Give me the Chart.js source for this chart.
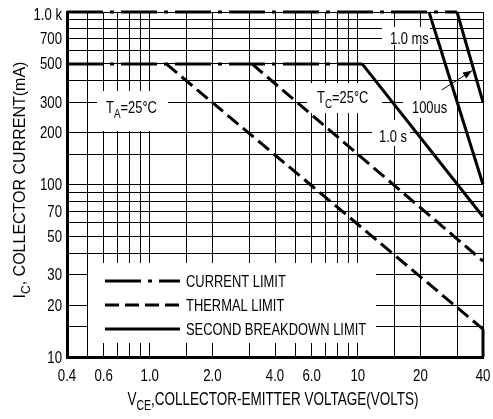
<!DOCTYPE html>
<html><head><meta charset="utf-8">
<script src="https://cdn.jsdelivr.net/npm/chart.js@4/dist/chart.umd.min.js"></script>
<style>html,body{margin:0;padding:0;background:#fff;} canvas{display:block;}</style>
</head><body>
<canvas id="c" width="493" height="419"></canvas>
<script>
const FONT = "'Liberation Sans',Arial,Helvetica,sans-serif";

// grid / tick values
const xGridValues = [0.4,0.5,0.6,0.7,0.8,0.9,1,1.5,2,3,4,5,6,7,8,9,10,15,20,30,40];
const xTickLabels = {0.4:'0.4',0.6:'0.6',1:'1.0',2:'2.0',4:'4.0',6:'6.0',10:'10',20:'20',40:'40'};
const yGridValues = [10,15,20,30,40,50,60,70,80,90,100,150,200,300,400,500,600,700,800,900,1000];
const yTickLabels = {10:'10',20:'20',30:'30',50:'50',70:'70',100:'100',200:'200',300:'300',500:'500',700:'700',1000:'1.0 k'};

// series: [VCE (V), IC (mA)]
const currentLimitPulse = [[0.4,1000],[30,1000]];
const currentLimitDC    = [[0.4,500],[10.5,500]];
const thermalTA         = [[1.2,500],[40,14.5]];
const thermalTC         = [[3.1,500],[40,36]];
const sb1s              = [[10.5,500],[40,65]];
const sb1ms             = [[22,1000],[40,100]];
const sb100us           = [[30,1000],[40,300]];
const voltageLimit      = [[40,14.5],[40,10]];
const arrowFrom = [25.4,354];
const arrowTo   = [35.4,457];

const DASH_CURRENT = [36,7,4,7];
const DASH_THERMAL = [14,6];

function ds(arr, dash){
  return {data: arr.map(([x,y])=>({x,y})), borderColor:'#000', borderWidth:3,
          pointRadius:0, fill:false, tension:0, borderDash: dash||[], clip:6};
}

// condensed text helpers (horizontal scale emulates a narrow face)
function richWidth(ctx, parts, size, sx){
  let w=0;
  for(const [t,sub] of parts){ ctx.font=(sub?Math.round(size*0.75):size)+'px '+FONT; w+=ctx.measureText(t).width*sx; }
  return w;
}
function drawRich(ctx, parts, x, y, size, sx){
  let cx=x;
  for(const [t,sub] of parts){
    ctx.font=(sub?Math.round(size*0.75):size)+'px '+FONT;
    ctx.save(); ctx.translate(cx, sub? y+size*0.3 : y); ctx.scale(sx,1);
    ctx.fillText(t, 0, 0); ctx.restore();
    cx+=ctx.measureText(t).width*sx;
  }
}

const annot = {
  id:'annot',
  beforeDatasetsDraw(chart){
    const ctx=chart.ctx; ctx.save(); ctx.fillStyle='#fff';
    [[88,263,288,80],[97,91,71,40],[307,83,75,30],[372,120,38,26],[403,90,54,28],[382,27,48,18]]
      .forEach(r=>ctx.fillRect(r[0],r[1],r[2],r[3]));
    ctx.restore();
  },
  afterDatasetsDraw(chart){
    const ctx=chart.ctx, xs=chart.scales.x, ys=chart.scales.y;
    ctx.save();
    ctx.fillStyle='#000'; ctx.strokeStyle='#000'; ctx.textBaseline='alphabetic'; ctx.textAlign='left';
    const S=17, SX=0.76;
    // tick labels
    ctx.textBaseline='middle';
    for(const v of yGridValues){
      const t=yTickLabels[v]; if(!t) continue;
      const w=richWidth(ctx,[[t,0]],16.5,0.8);
      let py=ys.getPixelForValue(v); if(v===1000) py+=2;
      drawRich(ctx,[[t,0]],62-w,py+1,16.5,0.8);
    }
    ctx.textBaseline='alphabetic';
    for(const v of xGridValues){
      const t=xTickLabels[v]; if(!t) continue;
      const w=richWidth(ctx,[[t,0]],17,0.78);
      drawRich(ctx,[[t,0]],xs.getPixelForValue(v)-w/2,381,17,0.78);
    }
    // annotations
    drawRich(ctx, [['T',0],['A',1],['=25°C',0]], 106, 113, S, SX);
    drawRich(ctx, [['T',0],['C',1],['=25°C',0]], 317, 103, S, SX);
    drawRich(ctx, [['1.0 ms',0]], 390, 44, S, SX);
    drawRich(ctx, [['100us',0]], 412, 113, S, SX);
    drawRich(ctx, [['1.0 s',0]], 379, 142, S, SX);
    // legend
    const items=[['CURRENT LIMIT',DASH_CURRENT,281],['THERMAL LIMIT',DASH_THERMAL,305],['SECOND BREAKDOWN LIMIT',[],329]];
    for(const [label,dash,yy] of items){
      ctx.lineWidth=3; ctx.setLineDash(dash);
      ctx.beginPath(); ctx.moveTo(105,yy); ctx.lineTo(180,yy); ctx.stroke();
      ctx.setLineDash([]);
      drawRich(ctx, [[label,0]], 186, yy+6, S, SX);
    }
    // arrow
    const ax0=xs.getPixelForValue(arrowFrom[0]), ay0=ys.getPixelForValue(arrowFrom[1]);
    const ax1=xs.getPixelForValue(arrowTo[0]), ay1=ys.getPixelForValue(arrowTo[1]);
    ctx.lineWidth=1; ctx.beginPath(); ctx.moveTo(ax0,ay0); ctx.lineTo(ax1,ay1); ctx.stroke();
    const ang=Math.atan2(ay1-ay0, ax1-ax0), L=9, Wd=3.5;
    ctx.beginPath(); ctx.moveTo(ax1,ay1);
    ctx.lineTo(ax1-L*Math.cos(ang)+Wd*Math.sin(ang), ay1-L*Math.sin(ang)-Wd*Math.cos(ang));
    ctx.lineTo(ax1-L*Math.cos(ang)-Wd*Math.sin(ang), ay1-L*Math.sin(ang)+Wd*Math.cos(ang));
    ctx.closePath(); ctx.fill();
    // x title
    const xt=[['V',0],['CE',1],[',COLLECTOR-EMITTER VOLTAGE(VOLTS)',0]];
    drawRich(ctx, xt, 273-richWidth(ctx,xt,18,0.75)/2, 405, 18, 0.75);
    // y title
    const yt=[['I',0],['C',1],[', COLLECTOR CURRENT(mA)',0]];
    ctx.translate(25,180); ctx.rotate(-Math.PI/2);
    drawRich(ctx, yt, -richWidth(ctx,yt,16,1)/2, 0, 16, 1);
    ctx.restore();
  }
};

new Chart(document.getElementById('c'), {
  type:'line',
  data:{datasets:[
    ds(currentLimitPulse, DASH_CURRENT),
    ds(currentLimitDC, DASH_CURRENT),
    ds(thermalTA, DASH_THERMAL),
    ds(thermalTC, DASH_THERMAL),
    ds(sb1s), ds(sb1ms), ds(sb100us), ds(voltageLimit)
  ]},
  options:{
    responsive:false, animation:false,
    layout:{padding:{left:0,right:10,top:12,bottom:0}},
    plugins:{legend:{display:false}, tooltip:{enabled:false}},
    scales:{
      x:{type:'logarithmic', min:0.4, max:40,
        afterBuildTicks:s=>{s.ticks=xGridValues.map(v=>({value:v}));},
        afterFit:s=>{s.height=62;},
        ticks:{display:false, autoSkip:false},
        grid:{color:'#000', lineWidth:1, drawTicks:false},
        border:{color:'#000', width:3}},
      y:{type:'logarithmic', min:10, max:1000,
        afterBuildTicks:s=>{s.ticks=yGridValues.map(v=>({value:v}));},
        afterFit:s=>{s.width=67;},
        ticks:{display:false, autoSkip:false},
        grid:{color:'#000', lineWidth:1, drawTicks:false},
        border:{color:'#000', width:3}}
    }
  },
  plugins:[annot]
});
</script>
</body></html>
